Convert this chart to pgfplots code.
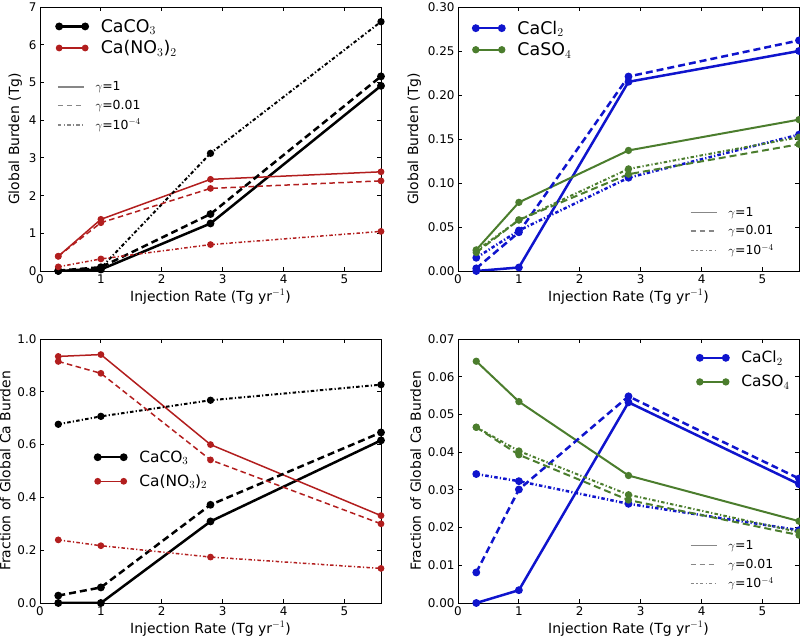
\documentclass[border=0pt]{standalone}
\usepackage{pgfplots}
\pgfplotsset{compat=1.18}
\usepackage{fontspec}
\setmainfont{DejaVu Sans}
\definecolor{cred}{RGB}{178,30,30}
\definecolor{cblue}{RGB}{15,20,205}
\definecolor{cgreen}{RGB}{75,125,45}
\definecolor{cgray}{RGB}{135,135,135}
\tikzset{ddot/.style={dash pattern=on 3.5bp off 2.2bp on 1.2bp off 2.2bp},
  ldash/.style={dash pattern=on 7bp off 4bp},
  mdash/.style={dash pattern=on 5.5bp off 3.5bp}}
\pgfplotsset{
  panel/.style={
    scale only axis, width=341bp, height=264bp, anchor=origin,
    xmin=0, xmax=5.6, xtick={0,1,2,3,4,5},
    tick align=inside, major tick length=4bp,
    axis line style={line width=0.8bp},
    every tick/.style={black, line width=0.8bp},
    scaled y ticks=false,
    /pgf/number format/assume math mode=true,
    tick label style={font=\fontsize{12}{14}\selectfont},
    label style={font=\fontsize{14}{16}\selectfont},
    xlabel={Injection Rate (Tg yr$^{-1}$)},
    xlabel style={yshift=1bp},
    legend cell align=left,
    legend image code/.code={\draw[##1] plot coordinates {(0bp,0bp) (26bp,0bp)};},
  },
  splegend/.style={legend style={draw=none, fill=none, inner sep=0pt,
      font=\fontsize{15.5}{18}\selectfont, row sep=7bp, column sep=11bp,
      at={(#1)}, anchor=north west}},
  biglegend/.style={legend style={font=\fontsize{17.5}{19}\selectfont, row sep=3bp}},
  glegend/.style={
    scale only axis, width=341bp, height=264bp, anchor=origin,
    xmin=0, xmax=1, ymin=0, ymax=1, hide axis,
    legend cell align=left,
    legend style={draw=none, fill=none, inner sep=0pt, row sep=4bp, column sep=9bp,
      font=\fontsize{12.5}{14}\selectfont, at={(#1)}, anchor=north west},
    legend image code/.code={\draw[##1] (0bp,0bp) -- (26bp,0bp);},
  },
  fix2/.style={yticklabel style={/pgf/number format/fixed, /pgf/number format/fixed zerofill, /pgf/number format/precision=2}},
  fix1/.style={yticklabel style={/pgf/number format/fixed, /pgf/number format/fixed zerofill, /pgf/number format/precision=1}},
  blk/.style={black, line width=2.5bp, mark=*, mark size=2.6bp, mark options={solid}},
  red/.style={cred, line width=1.5bp, mark=*, mark size=2.6bp, mark options={solid}},
  blu/.style={cblue, line width=2.5bp, mark=*, mark size=2.6bp, mark options={solid}},
  grn/.style={cgreen, line width=2bp, mark=*, mark size=2.6bp, mark options={solid}},
}
\newcommand{\gammalegend}{%
\addlegendimage{cgray, line width=1.3bp}
\addlegendimage{cgray, line width=1.3bp, mdash}
\addlegendimage{cgray, line width=1.3bp, ddot}
\legend{$\gamma$=1, $\gamma$=0.01, $\gamma$=10$^{-4}$}}
\begin{document}
\begin{tikzpicture}
\useasboundingbox (0,0) rectangle (800bp,637bp);
% Panel 1
\begin{axis}[panel, at={(40bp,366bp)}, ymin=0, ymax=7, ytick={0,1,...,7},
  ylabel={Global Burden (Tg)}, splegend={0.048,0.962}, biglegend]
\addplot[blk] coordinates {(0.3,0.0) (1.0,0.04) (2.8,1.26) (5.6,4.91)};
\addplot[red] coordinates {(0.3,0.39) (1.0,1.37) (2.8,2.43) (5.6,2.63)};
\addplot[blk, ldash, forget plot] coordinates {(0.3,0.01) (1.0,0.10) (2.8,1.51) (5.6,5.16)};
\addplot[blk, ddot, line width=2bp, forget plot] coordinates {(0.3,0.0) (1.0,0.08) (2.8,3.12) (5.6,6.61)};
\addplot[red, mdash, forget plot] coordinates {(0.3,0.39) (1.0,1.28) (2.8,2.19) (5.6,2.39)};
\addplot[red, ddot, forget plot] coordinates {(0.3,0.11) (1.0,0.32) (2.8,0.70) (5.6,1.05)};
\legend{CaCO$_3$, Ca(NO$_3$)$_2$}
\end{axis}
\begin{axis}[glegend={0.05,0.725}, at={(40bp,366bp)}]
\gammalegend
\end{axis}
% Panel 2
\begin{axis}[panel, fix2, at={(458bp,366bp)}, ymin=0, ymax=0.30, ytick={0,0.05,0.10,0.15,0.20,0.25,0.30},
  ylabel={Global Burden (Tg)}, splegend={0.044,0.956}, biglegend]
\addplot[blu] coordinates {(0.3,0.000) (1.0,0.004) (2.8,0.215) (5.6,0.250)};
\addplot[grn] coordinates {(0.3,0.024) (1.0,0.078) (2.8,0.137) (5.6,0.172)};
\addplot[blu, ldash, forget plot] coordinates {(0.3,0.003) (1.0,0.044) (2.8,0.221) (5.6,0.262)};
\addplot[blu, ddot, forget plot] coordinates {(0.3,0.015) (1.0,0.046) (2.8,0.106) (5.6,0.155)};
\addplot[grn, ldash, forget plot] coordinates {(0.3,0.021) (1.0,0.058) (2.8,0.110) (5.6,0.144)};
\addplot[grn, ddot, forget plot] coordinates {(0.3,0.023) (1.0,0.058) (2.8,0.116) (5.6,0.152)};
\legend{CaCl$_2$, CaSO$_4$}
\end{axis}
\begin{axis}[glegend={0.68,0.25}, at={(458bp,366bp)}]
\gammalegend
\end{axis}
% Panel 3
\begin{axis}[panel, fix1, at={(40bp,34bp)}, ymin=0, ymax=1, ytick={0,0.2,0.4,0.6,0.8,1.0},
  ylabel={Fraction of Global Ca Burden}, splegend={0.161,0.585}]
\addplot[blk] coordinates {(0.3,0.0) (1.0,0.0) (2.8,0.309) (5.6,0.616)};
\addplot[red] coordinates {(0.3,0.934) (1.0,0.941) (2.8,0.600) (5.6,0.331)};
\addplot[blk, ldash, forget plot] coordinates {(0.3,0.028) (1.0,0.059) (2.8,0.372) (5.6,0.646)};
\addplot[blk, ddot, line width=2bp, forget plot] coordinates {(0.3,0.677) (1.0,0.707) (2.8,0.768) (5.6,0.827)};
\addplot[red, mdash, forget plot] coordinates {(0.3,0.915) (1.0,0.870) (2.8,0.542) (5.6,0.300)};
\addplot[red, ddot, forget plot] coordinates {(0.3,0.239) (1.0,0.217) (2.8,0.174) (5.6,0.131)};
\legend{CaCO$_3$, Ca(NO$_3$)$_2$}
\end{axis}
% Panel 4
\begin{axis}[panel, fix2, at={(458bp,34bp)}, ymin=0, ymax=0.07, ytick={0,0.01,0.02,0.03,0.04,0.05,0.06,0.07},
  ylabel={Fraction of Global Ca Burden}, splegend={0.701,0.962}]
\addplot[blu] coordinates {(0.3,0.0000) (1.0,0.0034) (2.8,0.0532) (5.6,0.0315)};
\addplot[grn] coordinates {(0.3,0.0641) (1.0,0.0534) (2.8,0.0338) (5.6,0.0217)};
\addplot[blu, ldash, forget plot] coordinates {(0.3,0.0081) (1.0,0.0301) (2.8,0.0548) (5.6,0.0330)};
\addplot[blu, ddot, forget plot] coordinates {(0.3,0.0342) (1.0,0.0323) (2.8,0.0263) (5.6,0.0193)};
\addplot[grn, ldash, forget plot] coordinates {(0.3,0.0466) (1.0,0.0393) (2.8,0.0273) (5.6,0.0180)};
\addplot[grn, ddot, forget plot] coordinates {(0.3,0.0466) (1.0,0.0403) (2.8,0.0287) (5.6,0.0188)};
\legend{CaCl$_2$, CaSO$_4$}
\end{axis}
\begin{axis}[glegend={0.68,0.246}, at={(458bp,34bp)}]
\gammalegend
\end{axis}
\end{tikzpicture}
\end{document}
